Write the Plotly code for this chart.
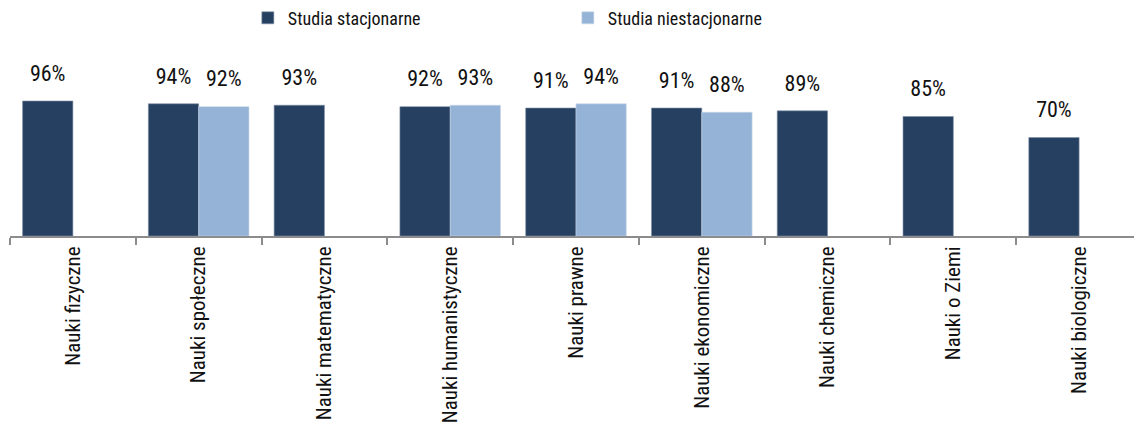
import plotly.graph_objects as go

categories = [
    'Nauki fizyczne',
    'Nauki społeczne',
    'Nauki matematyczne',
    'Nauki humanistyczne',
    'Nauki prawne',
    'Nauki ekonomiczne',
    'Nauki chemiczne',
    'Nauki o Ziemi',
    'Nauki biologiczne',
]
stacjonarne = [96, 94, 93, 92, 91, 91, 89, 85, 70]
niestacjonarne = [None, 92, None, 93, 94, 88, None, None, None]

FONT = 'Roboto Condensed, Liberation Sans Narrow, Arial Narrow, sans-serif'
DARK = '#264061'
LIGHT = '#95b3d7'

fig = go.Figure()
fig.add_trace(go.Bar(
    x=categories, y=stacjonarne, name='Studia stacjonarne',
    marker=dict(color=DARK, line=dict(color='#7f8fa6', width=0.6)),
    offsetgroup='a',
))
fig.add_trace(go.Bar(
    x=categories, y=niestacjonarne, name='Studia niestacjonarne',
    marker=dict(color=LIGHT, line=dict(color='#c9d7e8', width=0.6)),
    offsetgroup='b',
))

# value labels: invisible markers keep the text some way above the bar top
for vals, grp in [(stacjonarne, 'a'), (niestacjonarne, 'b')]:
    fig.add_trace(go.Scatter(
        x=categories, y=vals, mode='markers+text', offsetgroup=grp,
        text=['' if v is None else f'{v}%' for v in vals],
        textposition='top center',
        textfont=dict(family=FONT, size=22, color='#111'),
        marker=dict(size=22, opacity=0),
        showlegend=False, hoverinfo='skip', cliponaxis=False,
    ))

# the page body adds an 8px margin, so the figure is 8px smaller here
fig.update_layout(
    width=1134, height=422,
    margin=dict(l=2, r=0, t=48, b=194),
    barmode='group', bargap=0.2, bargroupgap=0,
    scattermode='group', scattergap=0.2,
    plot_bgcolor='white', paper_bgcolor='white',
    font=dict(family=FONT, size=18, color='#111'),
    showlegend=True,
    legend=dict(
        orientation='h', x=0.2115, y=0.976, xanchor='left', yanchor='middle',
        xref='container', yref='container',
        entrywidth=275, entrywidthmode='pixels',
        font=dict(family=FONT, size=18), itemwidth=30,
        traceorder='normal', bgcolor='rgba(0,0,0,0)',
    ),
)
fig.update_xaxes(
    tickangle=-90, tickson='boundaries', ticks='outside', ticklen=7,
    tickwidth=2, tickcolor='#8c8c8c', showline=True, linecolor='#8c8c8c',
    linewidth=2, showgrid=False, tickfont=dict(family=FONT, size=21),
    automargin=False,
)
fig.update_yaxes(visible=False, range=[0, 128], showgrid=False,
                 zeroline=False, automargin=False)

fig.write_html('out.html')
